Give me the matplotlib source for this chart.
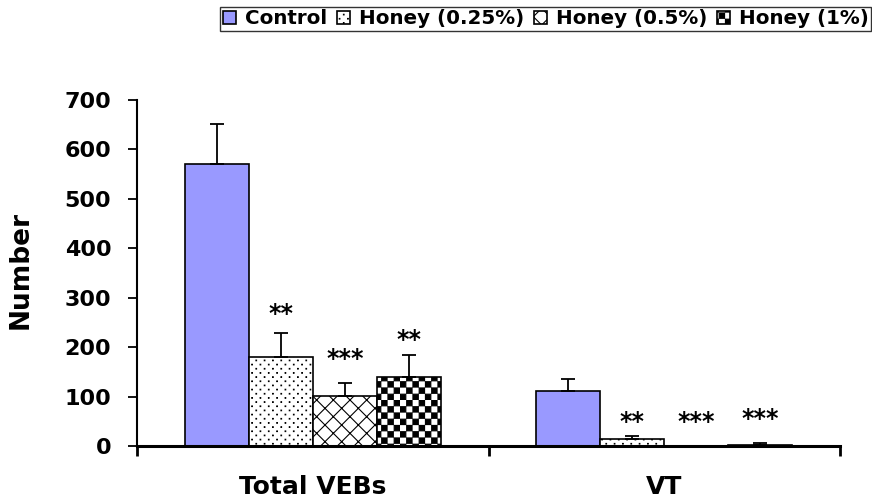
import numpy as np
import matplotlib
matplotlib.use("Agg")
import matplotlib.pyplot as plt
import matplotlib.hatch as mhatch
from matplotlib.path import Path

# data
categories = ["Total VEBs", "VT"]
groups = ["Control", "Honey (0.25%)", "Honey (0.5%)", "Honey (1%)"]
control = [570, 112]
control_err = [82, 24]
honey_025 = [181, 15]
honey_025_err = [47, 5]
honey_05 = [102, 0]
honey_05_err = [26, 0]
honey_1 = [139, 3]
honey_1_err = [45, 4]
# significance marks and where they sit (y, data units)
stars = [["", "**", "***", "**"], ["", "**", "***", "***"]]
stars_y = [[0, 267, 175, 215], [0, 49, 49, 55]]


# custom hatches: '.' = staggered dots, 'O' = checkerboard
class DotHatch(mhatch.HatchPatternBase):
    def __init__(self, hatch, density):
        self.rows = hatch.count('.') * 24
        self.cols = self.rows // 2
        self.num_vertices = self.rows * self.cols * 5

    def set_vertices_and_codes(self, vertices, codes):
        d = 0.003
        k = 0
        for r in range(self.rows):
            y = (r + 0.5) / self.rows
            for c in range(self.cols):
                x = (c + 0.25 + 0.5 * (r % 2)) / self.cols
                vertices[k:k + 5] = [[x - d, y - d], [x + d, y - d], [x + d, y + d], [x - d, y + d], [x - d, y - d]]
                codes[k:k + 5] = [Path.MOVETO, Path.LINETO, Path.LINETO, Path.LINETO, Path.CLOSEPOLY]
                k += 5


class CheckerHatch(mhatch.HatchPatternBase):
    def __init__(self, hatch, density):
        self.n = hatch.count('O') * 16
        self.num_vertices = (self.n * self.n // 2) * 5

    def set_vertices_and_codes(self, vertices, codes):
        n = self.n
        s = 1.0 / n
        e = s * 0.07
        k = 0
        for i in range(n):
            for j in range(n):
                if (i + j) % 2 == 0:
                    x0, y0, x1, y1 = i * s + e, j * s + e, (i + 1) * s - e, (j + 1) * s - e
                    vertices[k:k + 5] = [[x0, y0], [x1, y0], [x1, y1], [x0, y1], [x0, y0]]
                    codes[k:k + 5] = [Path.MOVETO, Path.LINETO, Path.LINETO, Path.LINETO, Path.CLOSEPOLY]
                    k += 5


mhatch._hatch_types = [mhatch.HorizontalHatch, mhatch.VerticalHatch,
                       mhatch.NorthEastHatch, mhatch.SouthEastHatch,
                       DotHatch, CheckerHatch]

plt.rcParams['font.family'] = ['DejaVu Sans']
plt.rcParams['font.weight'] = 'bold'
plt.rcParams['hatch.linewidth'] = 0.8
plt.rcParams['hatch.color'] = 'black'

fig = plt.figure(figsize=(8.72, 5.01), dpi=100)
ax = fig.add_axes([137 / 872, 55 / 501, 703 / 872, 346 / 501])

values = [control, honey_025, honey_05, honey_1]
errors = [control_err, honey_025_err, honey_05_err, honey_1_err]
fills = ['#9999ff', 'white', 'white', 'white']
hatches = [None, '.', 'xx', 'O']

x = np.arange(len(categories))
w = 0.182
for i in range(4):
    pos = x + (i - 1.5) * w
    ax.bar(pos, values[i], width=w, color=fills[i], edgecolor='black',
           linewidth=1.2, hatch=hatches[i], label=groups[i], zorder=2)
    err = np.array(errors[i], dtype=float)
    vals = np.array(values[i], dtype=float)
    m = err > 0
    ax.errorbar(pos[m], vals[m], yerr=[np.zeros(m.sum()), err[m]], fmt='none',
                ecolor='black', elinewidth=1.3, capsize=5, capthick=1.3, zorder=3)
    for j in range(len(categories)):
        if stars[j][i]:
            ax.text(pos[j], stars_y[j][i], stars[j][i], ha='center', va='center',
                    fontsize=17, fontweight='bold')

ax.set_xlim(-0.5, 1.5)
ax.set_ylim(0, 700)
ax.set_yticks(range(0, 701, 100))
ax.tick_params(axis='y', direction='out', length=6.5, width=1.3, labelsize=16, pad=12)
ax.set_xticks(x, categories)
ax.set_xticks([-0.5, 0.5, 1.5], minor=True)
ax.tick_params(axis='x', which='major', length=0, labelsize=18, pad=21)
ax.tick_params(axis='x', which='minor', direction='out', length=7, width=2)

for s in ['top', 'right']:
    ax.spines[s].set_visible(False)
ax.spines['left'].set_linewidth(1.5)
ax.spines['bottom'].set_linewidth(2.2)
ax.spines['bottom'].set_zorder(4)

ax.text(-0.166, 0.51, 'Number', transform=ax.transAxes, rotation=90,
        ha='center', va='center', fontsize=19, fontweight='bold')

leg = fig.legend(loc='upper right', bbox_to_anchor=(871 / 872, 1 - 7 / 501),
                 ncol=4, fontsize=14.3, frameon=True, fancybox=False,
                 borderaxespad=0, borderpad=0.12, handlelength=0.65, handleheight=0.65,
                 handletextpad=0.45, columnspacing=0.5)
leg.get_frame().set_edgecolor('black')
leg.get_frame().set_linewidth(1.0)

fig.savefig('out.png', dpi=100)
